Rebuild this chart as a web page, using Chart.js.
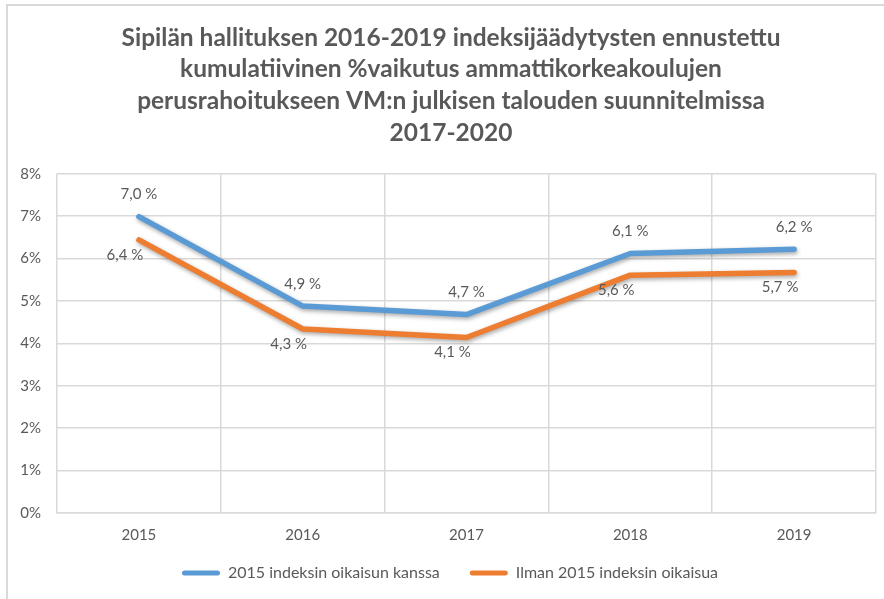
<!DOCTYPE html>
<html>
<head>
<meta charset="utf-8">
<script src="https://cdn.jsdelivr.net/npm/chart.js@4/dist/chart.umd.min.js"></script>
<style>
  html, body { margin: 0; padding: 0; background: #fff; overflow: hidden; }
  #wrap { position: relative; width: 884px; height: 599px; }
  #frame { position: absolute; left: 6px; top: 4px; width: 1000px; height: 1000px;
           border-left: 2px solid #d9d9d9; border-top: 2px solid #d9d9d9; box-sizing: border-box; }
  canvas { position: absolute; left: 0; top: 0; }
</style>
</head>
<body>
<div id="wrap">
  <div id="frame"></div>
  <canvas id="c" width="884" height="599"></canvas>
</div>
<script>
const titleLines = [
  'Sipilän hallituksen 2016-2019 indeksijäädytysten ennustettu',
  'kumulatiivinen %vaikutus ammattikorkeakoulujen',
  'perusrahoitukseen VM:n julkisen talouden suunnitelmissa',
  '2017-2020'
];
const categories = ['2015', '2016', '2017', '2018', '2019'];
const seriesNames = ['2015 indeksin oikaisun kanssa', 'Ilman 2015 indeksin oikaisua'];
const withCorrection = [6.99, 4.88, 4.68, 6.12, 6.22];
const withoutCorrection = [6.44, 4.34, 4.14, 5.61, 5.67];
const yTicks = [0, 1, 2, 3, 4, 5, 6, 7, 8];

const TEXT = '#595959';
const GRID = '#d9d9d9';
const FONT = 'Lato, "Liberation Sans", sans-serif';
const SMALL = 15;
const LEGEND_SIZE = 16;

const fmt = v => v.toFixed(1).replace('.', ',') + ' %';

const shadowPlugin = {
  id: 'lineShadow',
  beforeDatasetsDraw(chart) {
    const ctx = chart.ctx;
    ctx.save();
    ctx.shadowColor = 'rgba(0,0,0,0.35)';
    ctx.shadowBlur = 4;
    ctx.shadowOffsetX = 1;
    ctx.shadowOffsetY = 2;
  },
  afterDatasetsDraw(chart) {
    chart.ctx.restore();
  }
};

const labelPlugin = {
  id: 'pointLabels',
  afterDraw(chart) {
    const ctx = chart.ctx;
    ctx.save();
    ctx.font = SMALL + 'px ' + FONT;
    ctx.fillStyle = TEXT;
    ctx.textAlign = 'center';
    ctx.textBaseline = 'middle';
    chart.data.datasets.forEach((ds, di) => {
      const meta = chart.getDatasetMeta(di);
      meta.data.forEach((pt, i) => {
        const txt = fmt(ds.data[i]);
        if (di === 0) {
          ctx.fillText(txt, pt.x, pt.y - 22);
        } else {
          ctx.fillText(txt, pt.x - 14, pt.y + 15);
        }
      });
    });
    ctx.restore();
  }
};

const boxShift = {
  id: 'boxShift',
  afterLayout(chart) {
    const lg = chart.legend;
    lg.left += 12; lg.right += 12;
    lg.top -= 9; lg.bottom -= 9;
    const tt = chart.titleBlock;
    if (tt) { tt.left += 13; tt.right += 13; }
  }
};

new Chart(document.getElementById('c'), {
  type: 'line',
  data: {
    labels: categories,
    datasets: [
      {
        label: seriesNames[0],
        data: withCorrection,
        borderColor: '#5B9BD5',
        backgroundColor: '#5B9BD5',
        borderWidth: 5.5,
        borderCapStyle: 'round',
        borderJoinStyle: 'round',
        pointRadius: 0,
        tension: 0
      },
      {
        label: seriesNames[1],
        data: withoutCorrection,
        borderColor: '#ED7D31',
        backgroundColor: '#ED7D31',
        borderWidth: 5.5,
        borderCapStyle: 'round',
        borderJoinStyle: 'round',
        pointRadius: 0,
        tension: 0
      }
    ]
  },
  options: {
    responsive: false,
    animation: false,
    layout: { padding: { left: 0, right: 8, top: 0, bottom: 4 } },
    plugins: {
      title: {
        display: true,
        text: titleLines,
        color: TEXT,
        font: { family: FONT, size: 24.5, weight: 'bold', lineHeight: 1.294 },
        padding: { top: 22, bottom: 25 }
      },
      legend: {
        position: 'bottom',
        maxHeight: 51,
        labels: {
          color: TEXT,
          font: { family: FONT, size: LEGEND_SIZE },
          boxWidth: 38,
          boxHeight: 5,
          padding: 30,
          useBorderRadius: true,
          borderRadius: 2.5,
          generateLabels(chart) {
            return chart.data.datasets.map((ds, i) => ({
              text: ds.label,
              fillStyle: ds.borderColor,
              strokeStyle: ds.borderColor,
              lineWidth: 0,
              fontColor: TEXT,
              borderRadius: 2.5,
              hidden: false,
              datasetIndex: i
            }));
          }
        }
      },
      tooltip: { enabled: false }
    },
    scales: {
      x: {
        offset: true,
        grid: { offset: true, color: GRID, lineWidth: 1.5, drawTicks: false },
        border: { color: GRID, width: 1.5 },
        ticks: { color: TEXT, font: { family: FONT, size: SMALL }, padding: 13 },
        afterFit(s) { s.height = 31; }
      },
      y: {
        min: 0,
        max: 8,
        afterBuildTicks(s) { s.ticks = yTicks.map(v => ({ value: v })); },
        grid: { color: GRID, lineWidth: 1.5, drawTicks: false },
        border: { display: false },
        ticks: { color: TEXT, font: { family: FONT, size: SMALL }, padding: 16, callback: v => v + '%' },
        afterFit(s) { s.width = 57; }
      }
    }
  },
  plugins: [shadowPlugin, boxShift, labelPlugin]
});
</script>
</body>
</html>
